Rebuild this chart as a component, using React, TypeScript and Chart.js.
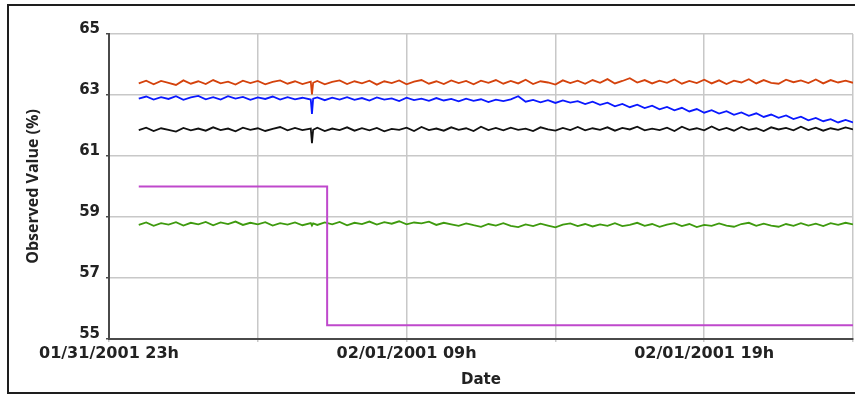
import React, { useEffect, useRef } from "react";
import { Chart, registerables } from "chart.js";

Chart.register(...registerables);

// Sample times, hours after 01/31/2001 23h
const sampleHours = [
  1, 1.25, 1.5, 1.75, 2, 2.25, 2.5, 2.75, 3, 3.25,
  3.5, 3.75, 4, 4.25, 4.5, 4.75, 5, 5.25, 5.5, 5.75,
  6, 6.25, 6.5, 6.78, 6.82, 6.86, 7, 7.25, 7.5, 7.75, 8, 8.25,
  8.5, 8.75, 9, 9.25, 9.5, 9.75, 10, 10.25, 10.5, 10.75,
  11, 11.25, 11.5, 11.75, 12, 12.25, 12.5, 12.75, 13, 13.25,
  13.5, 13.75, 14, 14.25, 14.5, 14.75, 15, 15.25, 15.5, 15.75,
  16, 16.25, 16.5, 16.75, 17, 17.25, 17.5, 17.75, 18, 18.25,
  18.5, 18.75, 19, 19.25, 19.5, 19.75, 20, 20.25, 20.5, 20.75,
  21, 21.25, 21.5, 21.75, 22, 22.25, 22.5, 22.75, 23, 23.25,
  23.5, 23.75, 24, 24.25, 24.5, 24.75, 25,
];

const orangeValues = [
  63.38, 63.47, 63.35, 63.46, 63.40, 63.33, 63.48, 63.37, 63.45, 63.36,
  63.49, 63.38, 63.44, 63.34, 63.47, 63.39, 63.46, 63.35, 63.43, 63.48,
  63.37, 63.45, 63.36, 63.44, 63.02, 63.40, 63.46, 63.35, 63.43, 63.48, 63.36, 63.45,
  63.38, 63.47, 63.34, 63.45, 63.39, 63.48, 63.35, 63.44, 63.49, 63.37,
  63.45, 63.36, 63.48, 63.39, 63.46, 63.35, 63.47, 63.40, 63.49, 63.37,
  63.46, 63.38, 63.50, 63.36, 63.45, 63.41, 63.34, 63.48, 63.39, 63.47,
  63.37, 63.49, 63.40, 63.52, 63.38, 63.46, 63.55, 63.41, 63.49, 63.38,
  63.47, 63.40, 63.51, 63.37, 63.46, 63.39, 63.50, 63.38, 63.48, 63.36,
  63.47, 63.41, 63.52, 63.38, 63.49, 63.40, 63.37, 63.50, 63.42, 63.48,
  63.39, 63.51, 63.38, 63.49, 63.41, 63.47, 63.40,
];

const blueValues = [
  62.88, 62.95, 62.85, 62.93, 62.87, 62.96, 62.84, 62.92, 62.97, 62.86,
  62.93, 62.85, 62.96, 62.88, 62.94, 62.84, 62.92, 62.87, 62.95, 62.85,
  62.93, 62.86, 62.91, 62.85, 62.38, 62.88, 62.92, 62.83, 62.91, 62.85, 62.93, 62.84,
  62.90, 62.82, 62.92, 62.85, 62.89, 62.80, 62.91, 62.83, 62.88, 62.81,
  62.90, 62.82, 62.87, 62.79, 62.88, 62.81, 62.86, 62.77, 62.85, 62.80,
  62.86, 62.96, 62.78, 62.84, 62.76, 62.83, 62.74, 62.82, 62.75, 62.80,
  62.70, 62.78, 62.68, 62.75, 62.63, 62.71, 62.60, 62.68, 62.57, 62.65,
  62.53, 62.61, 62.50, 62.58, 62.46, 62.54, 62.42, 62.50, 62.39, 62.47,
  62.35, 62.43, 62.32, 62.40, 62.28, 62.36, 62.25, 62.33, 62.21, 62.29,
  62.17, 62.25, 62.14, 62.21, 62.10, 62.18, 62.10,
];

const blackValues = [
  61.85, 61.93, 61.82, 61.91, 61.86, 61.80, 61.92, 61.84, 61.90, 61.83,
  61.94, 61.85, 61.90, 61.81, 61.93, 61.86, 61.91, 61.82, 61.89, 61.95,
  61.84, 61.92, 61.85, 61.90, 61.42, 61.86, 61.93, 61.82, 61.90, 61.85, 61.94, 61.83,
  61.91, 61.84, 61.92, 61.81, 61.89, 61.86, 61.93, 61.82, 61.95, 61.85,
  61.90, 61.83, 61.94, 61.86, 61.91, 61.82, 61.96, 61.85, 61.92, 61.84,
  61.93, 61.86, 61.90, 61.82, 61.94, 61.87, 61.83, 61.92, 61.85, 61.95,
  61.84, 61.91, 61.86, 61.94, 61.83, 61.92, 61.87, 61.96, 61.84, 61.90,
  61.85, 61.93, 61.82, 61.96, 61.86, 61.91, 61.84, 61.97, 61.85, 61.92,
  61.83, 61.95, 61.86, 61.91, 61.82, 61.94, 61.87, 61.92, 61.84, 61.96,
  61.85, 61.93, 61.83, 61.91, 61.86, 61.94, 61.87,
];

const greenValues = [
  58.74, 58.82, 58.71, 58.80, 58.75, 58.83, 58.72, 58.81, 58.76, 58.84,
  58.73, 58.82, 58.77, 58.85, 58.74, 58.81, 58.76, 58.83, 58.72, 58.80,
  58.75, 58.82, 58.73, 58.80, 58.72, 58.79, 58.74, 58.82, 58.76, 58.84, 58.73, 58.81,
  58.77, 58.85, 58.75, 58.83, 58.78, 58.86, 58.76, 58.82, 58.79, 58.85,
  58.74, 58.81, 58.76, 58.71, 58.79, 58.73, 58.68, 58.77, 58.72, 58.80,
  58.71, 58.67, 58.76, 58.70, 58.78, 58.72, 58.66, 58.75, 58.79, 58.70,
  58.77, 58.69, 58.76, 58.71, 58.80, 58.70, 58.74, 58.81, 58.71, 58.77,
  58.68, 58.75, 58.80, 58.70, 58.77, 58.67, 58.74, 58.71, 58.79, 58.72,
  58.68, 58.77, 58.81, 58.71, 58.78, 58.72, 58.68, 58.77, 58.71, 58.80,
  58.72, 58.78, 58.70, 58.80, 58.74, 58.81, 58.76,
];

// Step series (setpoint)
const stepHours = [1, 7.33, 7.33, 25];
const stepValues = [60, 60, 55.45, 55.45];

// X tick labels (hours after start -> label)
const xTickHours = [0, 10, 20];
const xTickLabels = ["01/31/2001 23h", "02/01/2001 09h", "02/01/2001 19h"];

const yTitle = "Observed Value (%)";
const xTitle = "Date";

function pts(xs: number[], ys: number[]) {
  return ys.map((y, i) => ({ x: xs[i], y }));
}

export default function App() {
  const ref = useRef<HTMLCanvasElement | null>(null);

  useEffect(() => {
    if (!ref.current) return;
    const lineDs = (label: string, data: any, color: string, width = 1.8) => ({
      label,
      data,
      borderColor: color,
      backgroundColor: color,
      borderWidth: width,
      pointRadius: 0,
      tension: 0,
      fill: false,
    });
    const chart = new Chart(ref.current, {
      type: "line",
      data: {
        datasets: [
          lineDs("Step", pts(stepHours, stepValues), "#bf48cc", 2),
          lineDs("Green", pts(sampleHours, greenValues), "#3e9a0e"),
          lineDs("Black", pts(sampleHours, blackValues), "#111111"),
          lineDs("Blue", pts(sampleHours, blueValues), "#0a18ff"),
          lineDs("Orange", pts(sampleHours, orangeValues), "#d4420c"),
        ],
      },
      options: {
        responsive: false,
        animation: false,
        events: [],
        layout: { padding: { top: 34, right: 2, left: 0, bottom: 0 } },
        plugins: { legend: { display: false }, tooltip: { enabled: false } },
        scales: {
          x: {
            type: "linear",
            min: 0,
            max: 25,
            afterFit: (s: any) => {
              s.height = 61;
            },
            ticks: {
              stepSize: 5,
              autoSkip: false,
              maxRotation: 0,
              padding: 2,
              color: "#222",
              font: { family: "DejaVu Sans", size: 16, weight: "bold" },
              callback: (v: any) => {
                const i = xTickHours.indexOf(Number(v));
                return i >= 0 ? xTickLabels[i] : "";
              },
            },
            grid: { color: "#c8c8c8", lineWidth: 1.5, tickLength: 3, tickColor: "#c8c8c8" },
            border: { display: true, color: "#4a4a4a", width: 2 },
            title: {
              display: true,
              text: xTitle,
              color: "#222",
              font: { family: "DejaVu Sans", size: 15, weight: "bold" },
              padding: { top: 0, bottom: 11 },
            },
          },
          y: {
            min: 55,
            max: 65,
            afterFit: (s: any) => {
              s.width = 109;
            },
            ticks: {
              stepSize: 2,
              padding: 6,
              labelOffset: -5,
              color: "#222",
              font: { family: "DejaVu Sans", size: 15, weight: "bold" },
            },
            grid: { color: "#c8c8c8", lineWidth: 1.5, tickLength: 3, tickColor: "#4a4a4a" },
            border: { display: true, color: "#4a4a4a", width: 2 },
            title: {
              display: true,
              text: yTitle,
              color: "#222",
              font: { family: "Open Sans", size: 16, weight: "bold" },
              padding: { top: 24, bottom: 0 },
            },
          },
        },
      },
    });
    return () => chart.destroy();
  }, []);

  return (
    <div style={{ position: "absolute", left: 0, top: 0, width: 855, height: 400, overflow: "hidden", background: "#fff" }}>
      <div
        style={{
          position: "absolute",
          left: 7,
          top: 4,
          width: 880,
          height: 390,
          border: "2px solid #1e1e1e",
          boxSizing: "border-box",
        }}
      />
      <canvas ref={ref} width={855} height={400} style={{ position: "absolute", left: 0, top: 0 }} />
    </div>
  );
}
